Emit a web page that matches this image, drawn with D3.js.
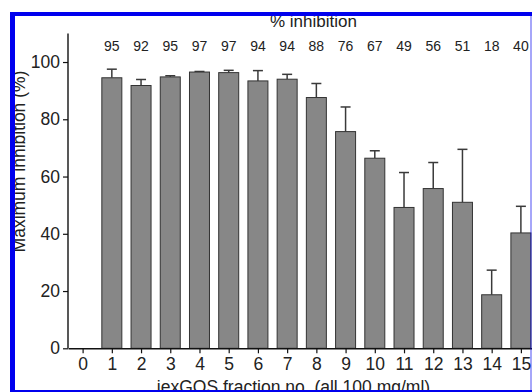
<!DOCTYPE html>
<html>
<head>
<meta charset="utf-8">
<script src="https://cdn.jsdelivr.net/npm/d3@7"></script>
<style>
  html, body { margin: 0; padding: 0; background: #fff; }
  svg { display: block; }
  text { font-family: "Liberation Sans", Arial, Helvetica, sans-serif; }
</style>
</head>
<body>
<svg id="chart" width="532" height="392"></svg>
<script>
// ---- data ----
const fractions = [0, 1, 2, 3, 4, 5, 6, 7, 8, 9, 10, 11, 12, 13, 14, 15];
const meanInhibition = [null, 94.5, 91.8, 94.8, 96.5, 96.3, 93.4, 94.0, 87.6, 75.7, 66.4, 49.2, 55.8, 51.0, 18.7, 40.3];
const errUpper = [null, 3.0, 2.1, 0.4, 0.2, 0.8, 3.6, 1.7, 4.9, 8.6, 2.6, 12.2, 9.1, 18.5, 8.6, 9.3];
const pctLabels = ["", "95", "92", "95", "97", "97", "94", "94", "88", "76", "67", "49", "56", "51", "18", "40"];
const yTicks = [0, 20, 40, 60, 80, 100];
const yTitle = "Maximum inhibition (%)";
const xTitle = "iexGOS fraction no. (all 100 mg/ml)";
const topTitle = "% inhibition";

// ---- layout ----
const svg = d3.select("#chart");
const x = d3.scaleLinear().domain([-0.5, 15.5]).range([68, 535.5]);
const y = d3.scaleLinear().domain([0, 110]).range([348.3, 33.4]);
const barW = 20;
const font = "Liberation Sans, Arial, sans-serif";

const data = fractions.map((f, i) => ({ f, v: meanInhibition[i], e: errUpper[i], lab: pctLabels[i] }))
  .filter(d => d.v !== null);

// error bars (upper only)
const eg = svg.append("g").attr("stroke", "#3a3a3a").attr("stroke-width", 1.5).attr("fill", "none");
data.forEach(d => {
  const cx = x(d.f);
  eg.append("line").attr("x1", cx).attr("x2", cx).attr("y1", y(d.v)).attr("y2", y(d.v + d.e));
  eg.append("line").attr("x1", cx - 5).attr("x2", cx + 5).attr("y1", y(d.v + d.e)).attr("y2", y(d.v + d.e));
});

// bars
svg.append("g").selectAll("rect").data(data).join("rect")
  .attr("x", d => x(d.f) - barW / 2)
  .attr("width", barW)
  .attr("y", d => y(d.v))
  .attr("height", d => y(0) - y(d.v))
  .attr("fill", "#878787")
  .attr("stroke", "#333")
  .attr("stroke-width", 1);

// axes
const yAxis = svg.append("g").attr("transform", "translate(68,0)")
  .call(d3.axisLeft(y).tickValues(yTicks).tickSize(5).tickSizeOuter(0).tickPadding(3));
const xAxis = svg.append("g").attr("transform", `translate(0,${y(0)})`)
  .call(d3.axisBottom(x).tickValues(fractions).tickFormat(d3.format("d")).tickSize(5).tickSizeOuter(0).tickPadding(4));
[yAxis, xAxis].forEach(a => {
  a.select(".domain").attr("stroke", "#111").attr("stroke-width", 1.4);
  a.selectAll(".tick line").attr("stroke", "#111").attr("stroke-width", 1.2);
  a.selectAll(".tick text").attr("fill", "#222").style("font-size", "17.5px").style("font-family", font);
});
yAxis.select(".domain").attr("d", `M0,${y(110)}V${y(0)}`);

// percentage labels above
svg.append("g").selectAll("text").data(data).join("text")
  .attr("x", d => x(d.f))
  .attr("y", 50.7)
  .attr("text-anchor", "middle")
  .attr("fill", "#222")
  .style("font-size", "14px")
  .text(d => d.lab);

// titles
svg.append("text").attr("x", 270).attr("y", 26.5).attr("fill", "#222")
  .style("font-size", "17px").text(topTitle);
svg.append("text").attr("transform", "translate(25,161.5) rotate(-90)")
  .attr("text-anchor", "middle").attr("fill", "#222").style("font-size", "17.5px").text(yTitle);
svg.append("text").attr("x", 293.5).attr("y", 392.5).attr("text-anchor", "middle").attr("fill", "#222")
  .style("font-size", "17.5px").text(xTitle);

// blue frame
svg.append("rect").attr("x", 10).attr("y", 12).attr("width", 522).attr("height", 4).attr("fill", "#0000ee");
svg.append("rect").attr("x", 10).attr("y", 12).attr("width", 5).attr("height", 380).attr("fill", "#0000ee");
svg.append("rect").attr("x", 10).attr("y", 390).attr("width", 522).attr("height", 2).attr("fill", "#0000ee");
svg.append("rect").attr("x", 530).attr("y", 12).attr("width", 2).attr("height", 380).attr("fill", "#0000ee").attr("opacity", 0.35);
</script>
</body>
</html>
